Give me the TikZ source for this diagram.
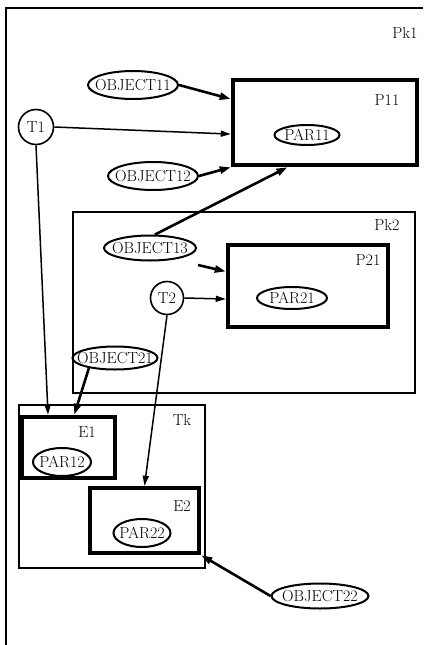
\documentclass[tikz,border=0pt]{standalone}
\usepackage{tikz}
\usetikzlibrary{positioning,arrows.meta,shapes.geometric,calc}
\newcommand{\dfont}{\fontsize{16}{18}\selectfont}

\begin{document}
\begin{tikzpicture}[x=1pt, y=-1pt,
    every node/.style={font=\dfont},
    pack/.style={draw, line width=1.5pt, inner sep=0pt},
    proc/.style={draw, line width=4.5pt, inner sep=0pt},
    obj/.style={draw, ellipse, line width=2pt, inner xsep=-12pt, inner ysep=0pt},
    trig/.style={draw, circle, line width=1.6pt, inner sep=0pt},
    tag/.style={inner sep=0pt},
    arr/.style={-{Triangle[length=10pt,width=6pt]}, line width=1.5pt},
    oarr/.style={-{Triangle[length=11pt,width=7pt]}, line width=2.6pt}]
  \useasboundingbox (0,0) rectangle (423,645);
  \draw[line width=2pt] (423,8) -- (6,8) -- (6,645);
  \node[tag] (pk1) at (405,33) {Pk1};
  \node[proc, minimum width=184, minimum height=85] (P11) at (325,122.5) {};
  \node[tag] (p11) at (387,100) {P11};
  \node[obj, minimum width=65, minimum height=20] (PAR11) at (307,135) {PAR11};
  \node[obj, minimum width=90, minimum height=28] (O11) at (133,85) {OBJECT11};
  \node[obj, minimum width=90, minimum height=28] (O12) at (153,176) {OBJECT12};
  \node[trig, minimum size=35] (T1) at (36,127) {T1};
  \node[pack, minimum width=342, minimum height=181] (Pk2) at (244,302.5) {};
  \node[tag] (pk2) at (387,225) {Pk2};
  \node[proc, minimum width=160, minimum height=82] (P21) at (308,286) {};
  \node[tag] (p21) at (368,260) {P21};
  \node[obj, minimum width=70, minimum height=22] (PAR21) at (292,298) {PAR21};
  \node[obj, minimum width=92, minimum height=25] (O13) at (150,248) {OBJECT13};
  \node[trig, minimum size=33] (T2) at (167,298) {T2};
  \node[obj, minimum width=85, minimum height=23] (O21) at (115,358) {OBJECT21};
  \node[pack, minimum width=186, minimum height=163] (Tk) at (112,486.5) {};
  \node[tag] (tk) at (182,420) {Tk};
  \node[proc, minimum width=93, minimum height=61] (E1) at (68.5,447.5) {};
  \node[tag] (e1) at (87,432) {E1};
  \node[obj, minimum width=58, minimum height=28] (PAR12) at (62,462) {PAR12};
  \node[proc, minimum width=109, minimum height=65] (E2) at (144.5,520.5) {};
  \node[tag] (e2) at (182,506) {E2};
  \node[obj, minimum width=57, minimum height=28] (PAR22) at (142,533) {PAR22};
  \node[obj, minimum width=97, minimum height=25] (O22) at (320,596) {OBJECT22};
  \coordinate (a13) at (198,265);
  \draw[oarr] (O11.east) -- (P11.166);
  \draw[arr] (T1.east) -- (P11.187);
  \draw[oarr] (O12.east) -- (P11.south west);
  \draw[oarr] (O13.70) -- (P11.230);
  \draw[oarr] (a13) -- (P21.170);
  \draw[arr] (T2.east) -- (P21.189);
  \draw[arr] (T1.south) -- (E1.122);
  \draw[oarr] (O21.201) -- (E1.80);
  \draw[arr] (T2.south) -- (E2.north);
  \draw[oarr] (O22.west) -- (E2.south east);
\end{tikzpicture}
\end{document}
